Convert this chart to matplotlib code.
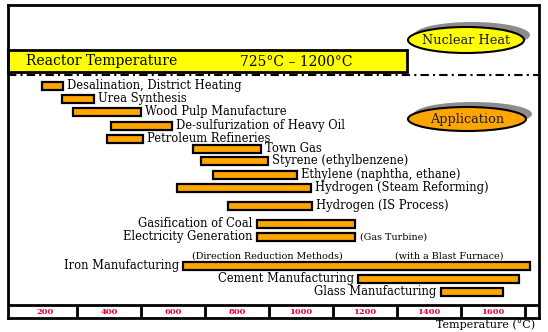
import matplotlib
matplotlib.use("Agg")
import matplotlib.pyplot as plt
from matplotlib.patches import Rectangle, Ellipse

plt.rcParams['font.family'] = ['DejaVu Serif']

# applications and their temperature range (deg C)
apps = ["Desalination, District Heating", "Urea Synthesis", "Wood Pulp Manufacture",
        "De-sulfurization of Heavy Oil", "Petroleum Refineries", "Town Gas",
        "Styrene (ethylbenzene)", "Ethylene (naphtha, ethane)",
        "Hydrogen (Steam Reforming)", "Hydrogen (IS Process)",
        "Gasification of Coal", "Electricity Generation", "Iron Manufacturing",
        "Cement Manufacturing", "Glass Manufacturing"]
t_low = [190, 253, 287, 406, 394, 662, 687, 725, 612, 772, 862, 862, 631, 1178, 1437]
t_high = [256, 353, 500, 597, 506, 875, 897, 987, 1031, 1034, 1169, 1169, 1715, 1681, 1631]
label_side = ['r'] * 10 + ['l'] * 5

notes = ["(Gas Turbine)", "(Direction Reduction Methods)", "(with a Blast Furnace)"]
note_t = [1184, 659, 1294]

tick_vals = [200, 400, 600, 800, 1000, 1200, 1400, 1600]
cell_edges = [300, 500, 700, 900, 1100, 1300, 1500, 1700]

reactor_text = ["Reactor Temperature", "725\u00b0C \u2013 1200\u00b0C"]

# layout (vertical positions in pixel rows, top = 0)
row_y = [86, 99, 112, 126, 139, 149, 161, 175, 188, 206, 224, 237, 266, 279, 292]
note_y = [237, 256, 256]
bar_h = 8

W, H = 548, 332
fig = plt.figure(figsize=(W / 100, H / 100), dpi=100)

# overlay in pixel coordinates for decorations
ov = fig.add_axes([0, 0, 1, 1])
ov.set_xlim(0, W)
ov.set_ylim(H, 0)
ov.axis('off')

# main axes: temperature scale
ax = fig.add_axes([8 / W, (H - 318) / H, (539 - 8) / W, (318 - 5) / H])
ax.set_xlim(84.4, 1743.8)
ax.set_ylim(318, 5)
ax.set_xticks([])
ax.set_yticks([])
for s in ax.spines.values():
    s.set_linewidth(2)
ax.patch.set_alpha(0)

widths = [h - l for l, h in zip(t_low, t_high)]
ax.barh(row_y, widths, left=t_low, height=bar_h, color='#FFA500',
        edgecolor='black', linewidth=1.6, zorder=3)

fs = 8.3
for name, lo, hi, y, side in zip(apps, t_low, t_high, row_y, label_side):
    if side == 'r':
        ax.annotate(name, (hi, y), xytext=(4, 1), textcoords='offset pixels',
                    ha='left', va='center', fontsize=fs)
    else:
        ax.annotate(name, (lo, y), xytext=(-4, 1), textcoords='offset pixels',
                    ha='right', va='center', fontsize=fs)

for txt, t, y in zip(notes, note_t, note_y):
    ax.text(t, y, txt, ha='left', va='center', fontsize=6.9)

# temperature scale row
ax.axhline(305, color='black', lw=2)
ax.vlines(cell_edges, 305, 318, color='black', lw=2)
for v in tick_vals:
    ax.text(v, 311.8, str(v), ha='center', va='center', fontsize=6,
            color='#E8002A', fontweight='bold')

# dash-dot separator
ax.axhline(75, color='black', lw=1.5, linestyle=(0, (4, 2, 1, 2)))

# reactor temperature box
ov.add_patch(Rectangle((8, 50), 399, 22, facecolor='#FFFF00', edgecolor='black',
                       lw=2, zorder=2))
ov.text(26, 61.5, reactor_text[0], ha='left', va='center', fontsize=10)
ov.text(240, 61.5, reactor_text[1], ha='left', va='center', fontsize=10)

# ellipses with shadows
for (cx, cy, w, h, fc, txt) in [(466, 40, 116, 26, '#FFFF00', "Nuclear Heat"),
                                 (467, 119, 118, 24, '#FFA500', "Application")]:
    ov.add_patch(Ellipse((cx + 6, cy - 5), w, h, facecolor='#8C8C8C',
                         edgecolor='none', zorder=3))
    ov.add_patch(Ellipse((cx, cy), w, h, facecolor=fc, edgecolor='black',
                         lw=1.5, zorder=4))
    ov.text(cx, cy + 1, txt, ha='center', va='center', fontsize=9.3, zorder=5,
            color='#1a1a2e')

ov.text(535, 325, "Temperature (\u00b0C)", ha='right', va='center', fontsize=8)

fig.savefig("out.png", dpi=100)
